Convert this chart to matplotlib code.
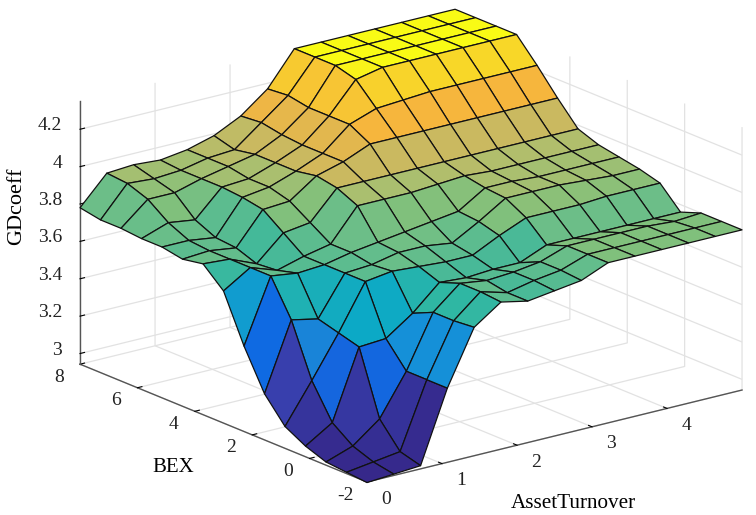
#!/usr/bin/env python3
import numpy as np
import matplotlib
matplotlib.use('Agg')
import matplotlib.pyplot as plt
from matplotlib.colors import LinearSegmentedColormap, Normalize
from mpl_toolkits.mplot3d import proj3d

plt.rcParams['font.family'] = ['Liberation Serif', 'DejaVu Serif']
plt.rcParams['axes.unicode_minus'] = False

asset_turnover = np.linspace(0, 5, 15)
bex = np.linspace(-2, 8, 15)

# one row per BEX value, left to right along AssetTurnover
gd_rows = [
    [2.94, 2.95, 2.96, 3.34, 3.63, 3.73, 3.70, 3.72, 3.74, 3.80, 3.80, 3.80, 3.80, 3.80, 3.80],
    [2.95, 2.97, 2.99, 3.34, 3.62, 3.74, 3.70, 3.73, 3.75, 3.80, 3.80, 3.80, 3.80, 3.80, 3.80],
    [2.96, 3.01, 3.12, 3.34, 3.62, 3.74, 3.72, 3.73, 3.75, 3.80, 3.80, 3.80, 3.80, 3.79, 3.80],
    [3.00, 3.09, 3.46, 3.47, 3.57, 3.70, 3.69, 3.70, 3.70, 3.76, 3.76, 3.76, 3.76, 3.76, 3.76],
    [3.06, 3.27, 3.49, 3.73, 3.75, 3.74, 3.73, 3.73, 3.80, 3.86, 3.86, 3.86, 3.87, 3.87, 3.87],
    [3.19, 3.55, 3.52, 3.73, 3.74, 3.77, 3.77, 3.75, 3.83, 3.92, 3.92, 3.92, 3.91, 3.90, 3.90],
    [3.40, 3.74, 3.72, 3.73, 3.76, 3.78, 3.80, 3.82, 3.84, 3.93, 3.93, 3.92, 3.92, 3.92, 3.92],
    [3.65, 3.74, 3.69, 3.73, 3.76, 3.93, 3.93, 3.93, 3.94, 3.95, 3.94, 3.94, 3.94, 3.94, 3.94],
    [3.75, 3.74, 3.68, 3.81, 3.83, 3.98, 3.98, 3.98, 3.98, 3.98, 3.98, 3.98, 3.98, 3.98, 3.98],
    [3.73, 3.74, 3.72, 3.89, 3.90, 4.00, 4.04, 4.10, 4.10, 4.10, 4.10, 4.10, 4.10, 4.10, 4.10],
    [3.75, 3.75, 3.73, 3.91, 3.93, 3.98, 4.04, 4.16, 4.21, 4.22, 4.23, 4.23, 4.23, 4.23, 4.23],
    [3.75, 3.80, 3.78, 3.92, 3.93, 3.98, 4.04, 4.16, 4.32, 4.35, 4.35, 4.35, 4.35, 4.35, 4.35],
    [3.76, 3.88, 3.88, 3.92, 3.95, 3.98, 4.05, 4.16, 4.35, 4.35, 4.35, 4.35, 4.35, 4.35, 4.35],
    [3.76, 3.92, 3.91, 3.92, 3.95, 3.96, 4.07, 4.18, 4.35, 4.35, 4.35, 4.35, 4.35, 4.35, 4.35],
    [3.78, 3.93, 3.94, 3.93, 3.95, 3.99, 4.06, 4.17, 4.35, 4.35, 4.35, 4.35, 4.35, 4.35, 4.35],
]

x_ticks = [0, 1, 2, 3, 4]
y_ticks = [-2, 0, 2, 4, 6, 8]
z_ticks = [3, 3.2, 3.4, 3.6, 3.8, 4, 4.2]
z_tick_labels = ['3', '3.2', '3.4', '3.6', '3.8', '4', '4.2']

parula = LinearSegmentedColormap.from_list('parula', [
    (0.00, '#36288a'), (0.035, '#35329a'), (0.06, '#383ca8'), (0.085, '#383fae'),
    (0.106, '#1566de'), (0.177, '#0f6ae2'), (0.234, '#1a85d8'), (0.284, '#1590d8'),
    (0.37, '#0ca9c6'), (0.48, '#2eb7a4'), (0.54, '#4bb996'), (0.58, '#6cbe88'),
    (0.61, '#80c07c'), (0.66, '#8cc078'), (0.70, '#a8bf70'), (0.74, '#cdb95f'),
    (0.82, '#f6b53e'), (0.91, '#f8d42a'), (1.00, '#f9fb15')])

X, Y = np.meshgrid(asset_turnover, bex)
Z = np.array(gd_rows)
face_colors = parula(Normalize(2.94, 4.35)(Z))

fig = plt.figure(figsize=(7.56, 5.15), dpi=100)
ax = fig.add_axes([0, 0, 1, 1], projection='3d', proj_type='ortho')
ax.view_init(elev=18.5, azim=-127.7)
ax.set_box_aspect((1, 0.99, 0.585), zoom=1.0)

surf = ax.plot_surface(X, Y, Z, rstride=1, cstride=1, facecolors=face_colors,
                       shade=False, edgecolor='#111111', linewidth=0.9, antialiased=True)
surf.set_clip_on(False)

z_low = 2.943
ax.set_xlim(0, 5)
ax.set_ylim(-2, 8)
ax.set_zlim(z_low, 4.35)
ax.set_xticks(x_ticks)
ax.set_yticks(y_ticks)
ax.set_zticks(z_ticks)
# labels are placed by hand further down, the 3d axes will not let them sit where they should
ax.set_xticklabels([])
ax.set_yticklabels([])
ax.set_zticklabels([])

for axis in (ax.xaxis, ax.yaxis, ax.zaxis):
    axis.set_pane_color((1, 1, 1, 0))
    axis.line.set_color('#555555')
    axis.line.set_linewidth(1.0)
    axis._axinfo['grid']['color'] = '#e2e2e2'
    axis._axinfo['grid']['linewidth'] = 0.9
    axis._axinfo['tick']['inward_factor'] = 0.0
    axis._axinfo['tick']['outward_factor'] = 0.15
    axis._axinfo['tick']['color'] = '#555555'


def to_px(x, y, z):
    u, v, _ = proj3d.proj_transform(x, y, z, ax.get_proj())
    return ax.transData.transform((u, v))


def label_at(pos, dx, dy, s, ha='center'):
    # pos in display pixels, dx and dy in pixels with y down as in the picture
    fig.text((pos[0] + dx) / 756, (pos[1] - dy) / 515, s, fontsize=14, color='#222222',
             ha=ha, va='center')


# line the box up with the picture: front corner and box width in pixels
fig.canvas.draw()
width_now = to_px(5, -2, z_low)[0] - to_px(0, 8, z_low)[0]
zoom = (742 - 80) / width_now
ax.set_box_aspect((1, 0.99, 0.585), zoom=zoom)
fig.canvas.draw()
front = to_px(0, -2, z_low)
ax.set_position([(367 - front[0]) / 756, ((515 - 482) - front[1]) / 515, 1, 1])
fig.canvas.draw()

for v in x_ticks:
    label_at(to_px(v, -2, z_low), 19, 17, str(v))
for v in y_ticks:
    label_at(to_px(0, v, z_low), -21, 13, str(v))
for v, s in zip(z_ticks, z_tick_labels):
    label_at(to_px(0, 8, v), -18, -3.5, s, ha='right')

fig.text(17 / 756, 1 - 206 / 515, 'GDcoeff', rotation=90, fontsize=16, ha='center', va='center')
fig.text(173 / 756, 1 - 468 / 515, 'BEX', fontsize=15, ha='center', va='center')
fig.text(573 / 756, 1 - 503 / 515, 'AssetTurnover', fontsize=15.2, ha='center', va='center')

fig.savefig('out.png', dpi=100)
